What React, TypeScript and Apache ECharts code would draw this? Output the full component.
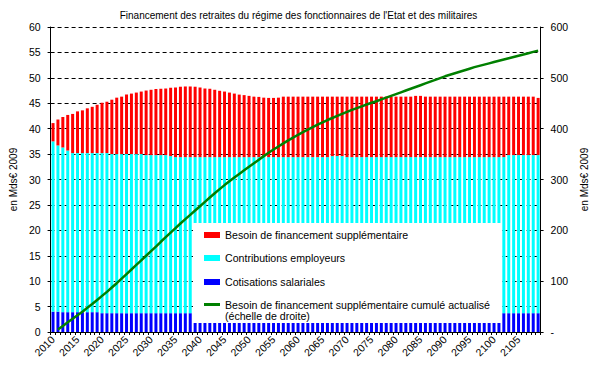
import React, { useEffect, useRef } from 'react';
import * as echarts from 'echarts';

const years = [
  '2010', '2011', '2012', '2013', '2014', '2015', '2016', '2017', '2018', '2019',
  '2020', '2021', '2022', '2023', '2024', '2025', '2026', '2027', '2028', '2029',
  '2030', '2031', '2032', '2033', '2034', '2035', '2036', '2037', '2038', '2039',
  '2040', '2041', '2042', '2043', '2044', '2045', '2046', '2047', '2048', '2049',
  '2050', '2051', '2052', '2053', '2054', '2055', '2056', '2057', '2058', '2059',
  '2060', '2061', '2062', '2063', '2064', '2065', '2066', '2067', '2068', '2069',
  '2070', '2071', '2072', '2073', '2074', '2075', '2076', '2077', '2078', '2079',
  '2080', '2081', '2082', '2083', '2084', '2085', '2086', '2087', '2088', '2089',
  '2090', '2091', '2092', '2093', '2094', '2095', '2096', '2097', '2098', '2099',
  '2100', '2101', '2102', '2103', '2104', '2105', '2106', '2107', '2108', '2109',
];

// Cotisations salariales (Mds€ 2009)
const cotisations = [
  4.0, 4.0, 3.9, 3.9, 3.9, 3.9, 3.9, 3.9, 3.9, 3.9,
  3.7, 3.7, 3.7, 3.7, 3.7, 3.7, 3.7, 3.7, 3.7, 3.7,
  3.7, 3.7, 3.7, 3.7, 3.7, 3.7, 3.7, 3.7, 3.7, 3.7,
  3.7, 3.7, 3.7, 3.7, 3.7, 3.7, 3.7, 3.7, 3.7, 3.7,
  3.7, 3.7, 3.7, 3.7, 3.7, 3.7, 3.7, 3.7, 3.7, 3.7,
  3.7, 3.7, 3.7, 3.7, 3.7, 3.7, 3.7, 3.7, 3.7, 3.7,
  3.7, 3.7, 3.7, 3.7, 3.7, 3.7, 3.7, 3.7, 3.7, 3.7,
  3.7, 3.7, 3.7, 3.7, 3.7, 3.7, 3.7, 3.7, 3.7, 3.7,
  3.7, 3.7, 3.7, 3.7, 3.7, 3.7, 3.7, 3.7, 3.7, 3.7,
  3.7, 3.7, 3.7, 3.7, 3.7, 3.7, 3.7, 3.7, 3.7, 3.7,
];

// Contributions employeurs (Mds€ 2009)
const contributions = [
  33.5, 32.7, 32.4, 31.8, 31.3, 31.3, 31.3, 31.3, 31.3, 31.3,
  31.5, 31.5, 31.3, 31.3, 31.3, 31.3, 31.3, 31.3, 31.3, 31.1,
  31.1, 31.1, 31.1, 31.1, 30.9, 30.7, 30.7, 30.7, 30.7, 30.7,
  30.7, 30.7, 30.7, 30.7, 30.7, 30.7, 30.7, 30.7, 30.7, 30.7,
  30.7, 30.7, 30.7, 30.7, 30.7, 30.7, 30.7, 30.7, 30.7, 30.7,
  30.7, 30.7, 30.7, 30.7, 30.7, 30.7, 30.7, 30.9, 30.9, 30.9,
  30.7, 30.7, 30.7, 30.7, 30.7, 30.7, 30.7, 30.7, 30.7, 30.7,
  30.7, 30.7, 30.7, 30.7, 30.7, 30.7, 30.7, 30.7, 30.7, 30.7,
  30.7, 30.7, 30.7, 30.7, 30.7, 30.7, 30.7, 30.7, 30.7, 30.7,
  30.7, 30.7, 30.7, 31.1, 31.1, 31.1, 31.1, 31.1, 31.1, 31.1,
];

// Besoin de financement supplémentaire (Mds€ 2009)
const besoin = [
  3.6, 5.1, 6.0, 7.0, 7.7, 8.2, 8.4, 8.8, 9.1, 9.5,
  9.9, 10.1, 10.7, 11.1, 11.3, 11.7, 11.9, 12.1, 12.3, 12.7,
  12.85, 13.0, 13.05, 13.1, 13.45, 13.7, 13.85, 13.9, 13.9, 13.85,
  13.7, 13.5, 13.45, 13.25, 13.05, 12.9, 12.7, 12.5, 12.3, 12.2,
  12.05, 11.9, 11.85, 11.7, 11.65, 11.65, 11.7, 11.9, 11.9, 11.9,
  11.9, 11.9, 11.9, 11.9, 11.9, 11.9, 11.9, 11.7, 11.7, 11.7,
  11.9, 11.9, 11.9, 11.9, 11.9, 11.9, 11.9, 11.9, 11.9, 11.9,
  11.9, 11.9, 11.9, 11.9, 12.05, 12.05, 11.9, 11.9, 11.9, 11.9,
  11.9, 11.9, 11.9, 11.9, 11.9, 11.9, 11.9, 11.9, 11.9, 11.9,
  11.9, 11.9, 11.9, 11.5, 11.5, 11.5, 11.5, 11.5, 11.5, 11.25,
];

// Besoin de financement supplémentaire cumulé actualisé (échelle de droite)
const besoinCumule = [
  null, 5, 12, 19, 26, 33, 40, 47.5, 55, 63,
  71, 79, 87.5, 96, 105, 114, 123, 132, 141, 150,
  159, 168, 177.5, 186.5, 195.5, 204.5, 213.5, 222, 230.5, 239,
  247.5, 256, 264.5, 273, 281, 289, 296.5, 304, 311, 318,
  325, 332, 339, 346, 352.5, 359, 365, 371, 377, 382.5,
  388, 393, 398, 403, 408, 412.5, 417, 421, 425, 429,
  433, 437, 440.5, 444, 447.5, 451, 454, 457.5, 461, 464.5,
  468, 471.5, 475, 478.5, 482, 485.5, 489, 492.5, 496, 499.5,
  503, 506, 509, 512, 515, 518, 521, 523.5, 526, 528.5,
  531, 533.5, 536, 538.5, 541, 543.5, 546, 548.5, 551, 553.5,
];

const NAME_RED = 'Besoin de financement supplémentaire';
const NAME_CYAN = 'Contributions employeurs';
const NAME_BLUE = 'Cotisations salariales';
const NAME_GREEN = 'Besoin de financement supplémentaire cumulé actualisé\n(échelle de droite)';

const FONT = "'Liberation Sans', Arial, sans-serif";

export default function App() {
  const ref = useRef<HTMLDivElement>(null);

  useEffect(() => {
    document.body.style.margin = '0';
    const chart = echarts.init(ref.current!, null, { renderer: 'svg' });

    const legendBase = {
      orient: 'vertical',
      padding: 0,
      itemWidth: 16,
      itemHeight: 6,
      icon: 'rect',
      selectedMode: false,
      left: 204,
      textStyle: { fontSize: 10.6, color: '#000', fontFamily: FONT, lineHeight: 12 },
    };

    chart.setOption({
      animation: false,
      backgroundColor: '#fff',
      textStyle: { fontFamily: FONT },
      title: {
        text: 'Financement des retraites du régime des fonctionnaires de l\'Etat et des militaires',
        left: 'center',
        top: 5,
        textStyle: { fontSize: 10, fontWeight: 'normal', color: '#000', fontFamily: FONT },
      },
      legend: [
        { ...legendBase, top: 229, data: [NAME_RED] },
        { ...legendBase, top: 252, data: [NAME_CYAN] },
        { ...legendBase, top: 276, data: [NAME_BLUE] },
        {
          ...legendBase,
          itemHeight: 3,
          top: 288,
          data: [NAME_GREEN],
          formatter: (n: string) => '\n' + n,
          textStyle: { fontSize: 10.6, color: '#000', fontFamily: FONT, lineHeight: 11 },
        },
      ],
      graphic: [
        {
          type: 'rect',
          z: 3,
          shape: { x: 193, y: 223, width: 309, height: 100 },
          style: { fill: '#ffffff' },
          silent: true,
        },
      ],
      grid: { left: 48, right: 52, top: 27, bottom: 41 },
      xAxis: {
        type: 'category',
        data: years,
        boundaryGap: true,
        axisLine: { lineStyle: { color: '#000', width: 1 } },
        axisTick: { show: true, interval: 0, length: 3, lineStyle: { color: '#000' } },
        axisLabel: { interval: 4, rotate: 45, fontSize: 10.5, color: '#000', margin: 6, fontFamily: FONT },
        splitLine: { show: false },
      },
      yAxis: [
        {
          type: 'value',
          min: 0,
          max: 60,
          interval: 5,
          name: 'en Mds€ 2009',
          nameLocation: 'middle',
          nameGap: 30,
          nameRotate: 90,
          nameTextStyle: { fontSize: 10, color: '#000', fontFamily: FONT },
          axisLine: { show: true, lineStyle: { color: '#000', width: 1 } },
          axisTick: { show: true, length: 3, lineStyle: { color: '#000' } },
          axisLabel: { fontSize: 10.5, color: '#000', margin: 10, fontFamily: FONT },
          splitLine: { show: true, lineStyle: { color: '#000', type: [4, 3], width: 1 } },
        },
        {
          type: 'value',
          min: 0,
          max: 600,
          interval: 100,
          position: 'right',
          name: 'en Mds€ 2009',
          nameLocation: 'middle',
          nameGap: 38,
          nameRotate: 90,
          nameTextStyle: { fontSize: 10, color: '#000', fontFamily: FONT },
          axisLine: { show: true, lineStyle: { color: '#000', width: 1 } },
          axisTick: { show: true, length: 3, lineStyle: { color: '#000' } },
          axisLabel: {
            fontSize: 10.5,
            color: '#000',
            margin: 10,
            fontFamily: FONT,
            formatter: (v: number) => (v === 0 ? '-' : String(v)),
          },
          splitLine: { show: false },
        },
      ],
      series: [
        {
          name: NAME_BLUE,
          type: 'bar',
          stack: 'total',
          barWidth: 3,
          itemStyle: { color: '#0000ff' },
          data: cotisations,
        },
        {
          name: NAME_CYAN,
          type: 'bar',
          stack: 'total',
          barWidth: 3,
          itemStyle: { color: '#00ffff' },
          data: contributions,
        },
        {
          name: NAME_RED,
          type: 'bar',
          stack: 'total',
          barWidth: 3,
          itemStyle: { color: '#ff0000' },
          data: besoin,
        },
        {
          name: NAME_GREEN,
          type: 'line',
          yAxisIndex: 1,
          showSymbol: false,
          symbol: 'none',
          lineStyle: { color: '#008000', width: 2.5 },
          itemStyle: { color: '#008000' },
          data: besoinCumule,
        },
      ],
    });

    return () => chart.dispose();
  }, []);

  return (
    <div
      ref={ref}
      style={{ width: 597, height: 373, position: 'absolute', left: 0, top: 0 }}
    />
  );
}
